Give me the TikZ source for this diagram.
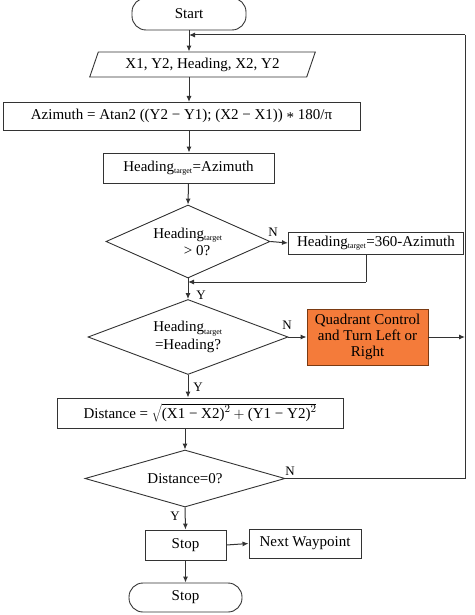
\documentclass[tikz,border=0pt]{standalone}
\usepackage{fontspec}
\setmainfont{Liberation Serif}
\usetikzlibrary{arrows.meta,shapes.geometric}
\definecolor{ln}{HTML}{333333}
\definecolor{qorange}{HTML}{F47B3A}
\definecolor{qedge}{HTML}{7A3A12}
\newcommand{\tgt}{\textsubscript{\raisebox{-0.1ex}{\fontsize{8}{8}\selectfont target}}}
\begin{document}
\begin{tikzpicture}[x=1pt,y=-1pt,
  every node/.style={font=\fontsize{15}{17}\selectfont, inner sep=0pt, text=black},
  box/.style={draw=ln, line width=0.9pt, rectangle},
  term/.style={draw=ln, line width=0.9pt, rectangle, rounded corners=14pt},
  dec/.style={draw=ln, line width=0.9pt, diamond, aspect=2.2},
  io/.style={draw=ln, line width=0.9pt, trapezium, trapezium left angle=65, trapezium right angle=115},
  arr/.style={draw=ln, line width=1pt, -{Latex[length=6pt,width=5pt]}},
  con/.style={draw=ln, line width=1pt},
  lab/.style={font=\fontsize{13}{14}\selectfont}]
\useasboundingbox (0,0) rectangle (474,615);
% nodes
\node[term, minimum width=114pt, minimum height=32pt] (start) at (189,14) {Start};
\node[io, minimum height=25pt, minimum width=226pt, trapezium stretches=true] (in) at (202.5,64.5) {X1, Y2, Heading, X2, Y2};
\node[box, minimum width=357pt, minimum height=28pt] (az) at (181.5,116) {Azimuth = Atan2 ((Y2 − Y1); (X2 − X1)) \raisebox{-0.35ex}{*} 180/π};
\node[box, minimum width=171pt, minimum height=30pt] (ht) at (188.5,168) {Heading\tgt=Azimuth};
\node[dec, minimum width=164pt, minimum height=73pt, align=center] (d1) at (188,241.5) {Heading\tgt\\[0pt]\hspace*{18pt}> 0?};
\node[box, minimum width=175pt, minimum height=22pt, anchor=west] (h360) at (288,243) {Heading\tgt=360-Azimuth};
\node[dec, minimum width=200pt, minimum height=75pt, align=center] (d2) at (188,337) {Heading\tgt\\[1pt]=Heading?};
\node[box, fill=qorange, draw=qedge, minimum width=121pt, minimum height=56pt, align=center] (q) at (367.5,337) {Quadrant Control\\[-1pt]and Turn Left or\\[-1pt]Right};
\node[box, minimum width=286pt, minimum height=30pt] (dist) at (200,413) {Distance = $\sqrt{\mbox{(X1 − X2)}^2 + \mbox{(Y1 − Y2)}^2}$};
\node[dec, minimum width=200pt, minimum height=57pt] (d3) at (185,478.5) {Distance=0?};
\node[box, minimum width=81pt, minimum height=30pt] (stop1) at (185.5,545) {Stop};
\node[box, minimum width=112pt, minimum height=29pt] (nw) at (305,543.5) {Next Waypoint};
\node[term, minimum width=113pt, minimum height=29pt] (stop2) at (185.5,597.5) {Stop};
% coordinates
\coordinate (fb) at (189,35);
\coordinate (rt) at (465,35);
\coordinate (rb) at (465,478.5);
\coordinate (rq) at (465,337);
\coordinate (j1) at (366,282);
\coordinate (j2) at (188,282);
% connectors
\draw[arr] (start.south) -- (start.south |- in.north);
\draw[con] (rt) -- (195,35);
\draw[arr] (200,35) -- (fb);
\draw[arr] (189,77) -- (189,102);
\draw[arr] (189,130) -- (ht.north -| 189,0);
\draw[arr] (ht.south) -- (d1.north);
\draw[arr] (d1.east) -- (h360.west);
\draw[con] (h360.south -| j1) -- (j1);
\draw[arr] (j1) -- (j2);
\draw[arr] (d1.south) -- (d2.north);
\draw[arr] (d2.east) -- (q.west);
\draw[arr] (q.east) -- (rq);
\draw[arr] (d2.south) -- (d2.south |- dist.north);
\draw[arr] (dist.south -| d3.north) -- (d3.north);
\draw[con] (d3.east) -- (rb) -- (rt);
\draw[arr] (d3.south) -- (stop1.north);
\draw[arr] (stop1.east) -- (nw.west);
\draw[arr] (stop1.south) -- (stop2.north);
% labels
\node[lab] (n1) at (273,232) {N};
\node[lab] (y1) at (201,295) {Y};
\node[lab] (n2) at (287,325) {N};
\node[lab] (y2) at (198,387) {Y};
\node[lab] (n3) at (290,471) {N};
\node[lab] (y3) at (175,516) {Y};
\end{tikzpicture}
\end{document}
